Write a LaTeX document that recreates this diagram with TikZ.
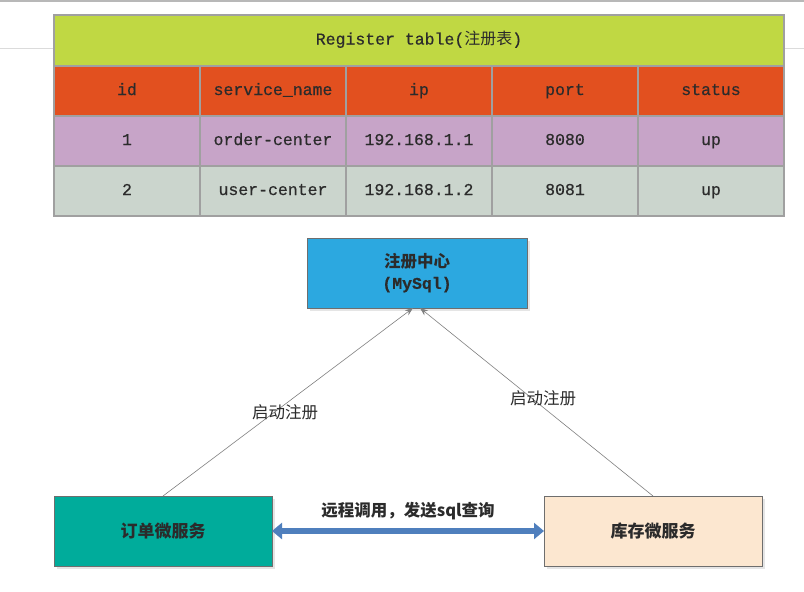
\documentclass[tikz,border=0pt]{standalone}
\usepackage{fontspec}
\usetikzlibrary{arrows.meta,shadows}
\newfontfamily\cjk{Noto Sans CJK SC}
\newfontfamily\mono[FakeBold=0.6]{Liberation Mono}
\definecolor{txt}{HTML}{2B2B2B}
\definecolor{tgreen}{HTML}{C0D843}
\definecolor{torange}{HTML}{E2501F}
\definecolor{tpurple}{HTML}{C7A4C8}
\definecolor{tgray}{HTML}{CBD5CD}
\definecolor{tborder}{HTML}{A0A0A0}
\definecolor{cblue}{HTML}{2CA8E0}
\definecolor{cteal}{HTML}{00AC9B}
\definecolor{cpeach}{HTML}{FCE7D0}
\definecolor{bborder}{HTML}{6E6E6E}
\definecolor{arrblue}{HTML}{4F7FBD}
\definecolor{lgray}{HTML}{808080}
\begin{document}
\begin{tikzpicture}[x=1pt,y=-1pt,
  cell/.style={draw=tborder,line width=1.2pt,minimum width=146pt,minimum height=50pt,inner sep=0pt,outer sep=0pt,text=txt,
    text height=11pt,text depth=3pt,font=\mono\fontsize{16.5}{18}\selectfont},
  hdr/.style={cell,fill=torange},
  rowa/.style={cell,fill=tpurple},
  rowb/.style={cell,fill=tgray},
  svc/.style={draw=bborder,line width=1pt,minimum width=#1,minimum height=70pt,inner sep=0pt,outer sep=0pt,text=txt,align=center,
    drop shadow={shadow xshift=3pt,shadow yshift=-3pt,fill=black!10,opacity=1}},
  lab/.style={text=txt,font=\cjk\fontsize{16.5}{20}\selectfont,inner sep=1pt},
  reglink/.style={draw=lgray,line width=0.6pt,-{Stealth[length=8pt,width=6pt]}},
  call/.style={draw=arrblue,line width=6pt,{Triangle[length=10pt,width=16pt]}-{Triangle[length=10pt,width=16pt]}}
]
\useasboundingbox (0,0) rectangle (804,592);
\fill[white] (0,0) rectangle (804,592);
\draw[black!28,line width=1.2pt] (0,1) -- (804,1);
\draw[black!14,line width=1pt] (0,48) -- (804,48);

% table
\node[cell,fill=tgreen,minimum width=730pt,minimum height=51pt] (title) at (419,40.5)
  {Register table({\cjk\fontsize{16}{18}\selectfont 注册表})};
\node[hdr] (h1) at (127,91) {id};
\node[hdr] (h2) at (273,91) {service\_name};
\node[hdr] (h3) at (419,91) {ip};
\node[hdr] (h4) at (565,91) {port};
\node[hdr] (h5) at (711,91) {status};
\node[rowa] (a1) at (127,141) {1};
\node[rowa] (a2) at (273,141) {order-center};
\node[rowa] (a3) at (419,141) {192.168.1.1};
\node[rowa] (a4) at (565,141) {8080};
\node[rowa] (a5) at (711,141) {up};
\node[rowb] (b1) at (127,191) {2};
\node[rowb] (b2) at (273,191) {user-center};
\node[rowb] (b3) at (419,191) {192.168.1.2};
\node[rowb] (b4) at (565,191) {8081};
\node[rowb] (b5) at (711,191) {up};

% services
\node[svc=220pt,fill=cblue,font=\cjk\bfseries\fontsize{16.5}{21}\selectfont] (reg) at (417,273)
  {注册中心\\{\mono\bfseries (MySql)}};
\node[svc=218pt,fill=cteal,font=\cjk\bfseries\fontsize{17}{20}\selectfont] (order) at (163,531) {订单微服务};
\node[svc=218pt,fill=cpeach,font=\cjk\bfseries\fontsize{17}{20}\selectfont] (stock) at (653,531) {库存微服务};

% connectors
\draw[reglink] (order.north) -- ([xshift=-4pt]reg.south);
\draw[reglink] (stock.north) -- ([xshift=3pt]reg.south);
\draw[call] (order.east) -- (stock.west);

% labels
\node[lab] (l1) at (285,412) {启动注册};
\node[lab] (l2) at (543,398) {启动注册};
\node[lab,font=\cjk\bfseries\fontsize{16.5}{20}\selectfont] (l3) at (408,511) {远程调用，发送sql查询};
\end{tikzpicture}
\end{document}
